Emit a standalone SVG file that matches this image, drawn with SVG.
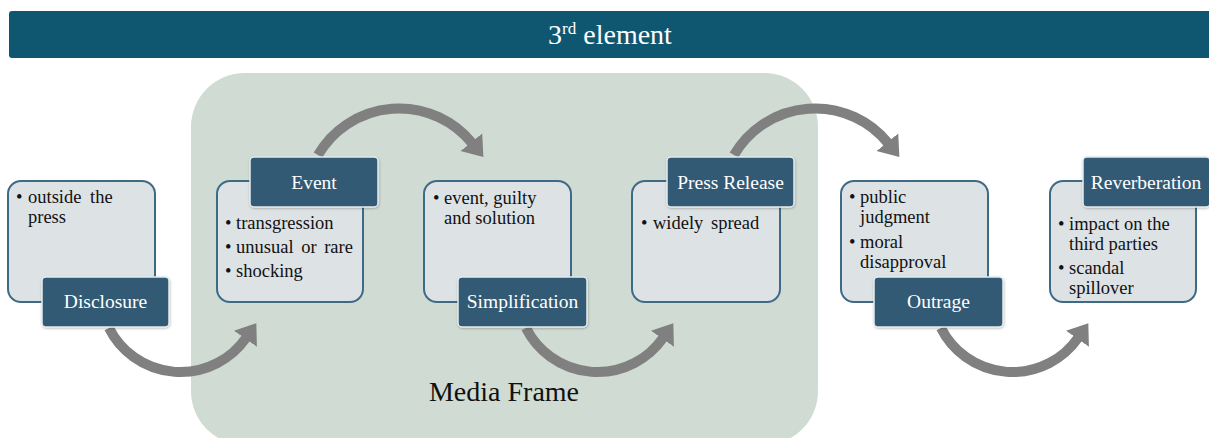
<svg xmlns="http://www.w3.org/2000/svg" width="1209" height="438" viewBox="0 0 1209 438">
  <style>
    .box { fill: #dde2e5; stroke: #3f6a86; stroke-width: 2; }
    .tag { fill: #315a74; stroke: #e4ebee; stroke-width: 1.5; }
    .serif { font-family: "Liberation Serif", "Times New Roman", serif; }
    .tagtxt { font-family: "Liberation Serif", "Times New Roman", serif; font-size: 19.5px; fill: #ffffff; text-anchor: middle; }
    .item { font-family: "Liberation Serif", "Times New Roman", serif; font-size: 18.5px; fill: #111111; }
    .arc { fill: none; stroke: #808080; stroke-width: 10; }
  </style>
  <defs>
    <marker id="head" markerUnits="userSpaceOnUse" viewBox="0 -15 20 30" markerWidth="20" markerHeight="30" refX="1" refY="0" orient="auto">
      <path d="M0,-14 L19,0 L0,14 Z" fill="#808080"/>
    </marker>
    <filter id="shadow" x="-10%" y="-10%" width="120%" height="130%">
      <feDropShadow dx="0.5" dy="1" stdDeviation="0.8" flood-color="#000000" flood-opacity="0.25"/>
    </filter>
  </defs>

  <!-- title bar -->
  <g id="title">
    <rect x="9" y="11" width="1210" height="47" rx="3" fill="#0f5771"/>
    <text class="serif" x="610" y="44" font-size="28" fill="#ffffff" text-anchor="middle">3<tspan font-size="17" dy="-10">rd</tspan><tspan dy="10"> element</tspan></text>
  </g>

  <!-- media frame background -->
  <g id="media-frame">
    <rect x="191" y="73" width="627" height="372" rx="54" fill="#cfdbd3"/>
    <text class="serif" x="504" y="401" font-size="28" fill="#111111" text-anchor="middle">Media Frame</text>
  </g>

  <!-- connectors -->
  <g id="connectors">
    <path class="arc" d="M109,328 A80,80 0 0 0 246,338" marker-end="url(#head)"/>
    <path class="arc" d="M318,155 A94,94 0 0 1 472,143" marker-end="url(#head)"/>
    <path class="arc" d="M526,328 A80,80 0 0 0 663,338" marker-end="url(#head)"/>
    <path class="arc" d="M734,155 A94,94 0 0 1 888,143" marker-end="url(#head)"/>
    <path class="arc" d="M941,328 A80,80 0 0 0 1078,338" marker-end="url(#head)"/>
  </g>

  <!-- stage nodes -->
  <g id="disclosure">
    <rect class="box" x="8" y="181" width="147" height="121" rx="13"/>
    <text class="item" x="16" y="203">•</text>
    <text class="item" x="28" y="203" word-spacing="4">outside the</text>
    <text class="item" x="28" y="223">press</text>
    <rect class="tag" x="42" y="277" width="127" height="50" rx="4" filter="url(#shadow)"/>
    <text class="tagtxt" x="105.5" y="308">Disclosure</text>
  </g>

  <g id="event">
    <rect class="box" x="217" y="181" width="146" height="121" rx="13"/>
    <text class="item" x="225" y="229">•</text>
    <text class="item" x="236" y="229">transgression</text>
    <text class="item" x="225" y="253">•</text>
    <text class="item" x="236" y="253" word-spacing="3">unusual or rare</text>
    <text class="item" x="225" y="277">•</text>
    <text class="item" x="236" y="277">shocking</text>
    <rect class="tag" x="250" y="157" width="128" height="50" rx="4" filter="url(#shadow)"/>
    <text class="tagtxt" x="314" y="188.5">Event</text>
  </g>

  <g id="simplification">
    <rect class="box" x="424" y="181" width="147" height="121" rx="13"/>
    <text class="item" x="433" y="204">•</text>
    <text class="item" x="444" y="204">event, guilty</text>
    <text class="item" x="444" y="224">and solution</text>
    <rect class="tag" x="458" y="277" width="129" height="50" rx="4" filter="url(#shadow)"/>
    <text class="tagtxt" x="522.5" y="308">Simplification</text>
  </g>

  <g id="press-release">
    <rect class="box" x="632" y="181" width="148" height="121" rx="13"/>
    <text class="item" x="641" y="229">•</text>
    <text class="item" x="653" y="229" word-spacing="3">widely spread</text>
    <rect class="tag" x="667" y="157" width="127" height="50" rx="4" filter="url(#shadow)"/>
    <text class="tagtxt" x="730.5" y="188.5">Press Release</text>
  </g>

  <g id="outrage">
    <rect class="box" x="841" y="181" width="147" height="121" rx="13"/>
    <text class="item" x="849" y="203">•</text>
    <text class="item" x="860" y="203">public</text>
    <text class="item" x="860" y="223">judgment</text>
    <text class="item" x="849" y="248">•</text>
    <text class="item" x="860" y="248">moral</text>
    <text class="item" x="860" y="268">disapproval</text>
    <rect class="tag" x="874" y="277" width="129" height="50" rx="4" filter="url(#shadow)"/>
    <text class="tagtxt" x="938.5" y="308">Outrage</text>
  </g>

  <g id="reverberation">
    <rect class="box" x="1050" y="181" width="146" height="121" rx="13"/>
    <text class="item" x="1058" y="230">•</text>
    <text class="item" x="1069" y="230">impact on the</text>
    <text class="item" x="1069" y="250">third parties</text>
    <text class="item" x="1058" y="274">•</text>
    <text class="item" x="1069" y="274">scandal</text>
    <text class="item" x="1069" y="294">spillover</text>
    <rect class="tag" x="1083" y="157" width="127" height="50" rx="4" filter="url(#shadow)"/>
    <text class="tagtxt" x="1146" y="188.5">Reverberation</text>
  </g>
</svg>
